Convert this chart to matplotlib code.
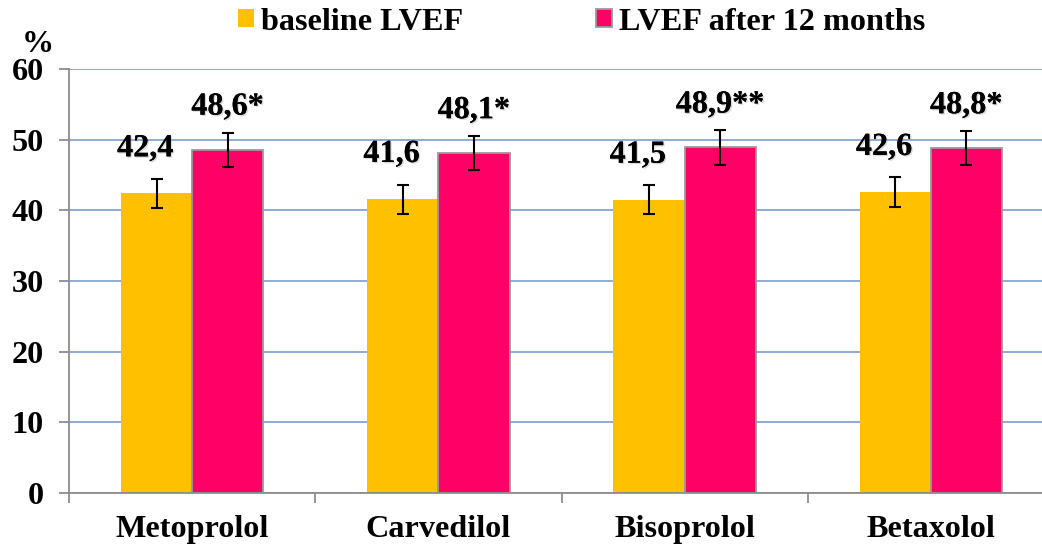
import matplotlib
matplotlib.use("Agg")
import matplotlib.pyplot as plt
import matplotlib.patheffects as pe
import numpy as np

categories = ["Metoprolol", "Carvedilol", "Bisoprolol", "Betaxolol"]
baseline = [42.4, 41.6, 41.5, 42.6]
after12 = [48.6, 48.1, 48.9, 48.8]
baseline_err = [2.1, 2.05, 2.05, 2.1]
after12_err = [2.4, 2.45, 2.45, 2.45]
baseline_labels = ["42,4", "41,6", "41,5", "42,6"]
after12_labels = ["48,6*", "48,1*", "48,9**", "48,8*"]
series_names = ["baseline LVEF", "LVEF after 12 months"]
yticks = [0, 10, 20, 30, 40, 50, 60]

plt.rcParams['font.family'] = ['Liberation Serif', 'DejaVu Serif']
plt.rcParams['font.weight'] = 'bold'

W, H = 1042, 545
FS = 23.2
fig = plt.figure(figsize=(W / 100, H / 100), dpi=100)
ax = fig.add_axes([69 / W, 52 / H, 985 / W, 424 / H])

yellow = "#FFC000"
pink = "#FF0066"
x = np.arange(len(categories))
bw = 0.289

b1 = ax.bar(x - bw / 2, baseline, bw, color=yellow, edgecolor=yellow, linewidth=0,
            yerr=baseline_err, error_kw=dict(ecolor="black", elinewidth=1.5, capsize=4.2, capthick=1.5),
            zorder=3, label=series_names[0])
b2 = ax.bar(x + bw / 2, after12, bw, color=pink, edgecolor="#9A9A9A", linewidth=1.3,
            yerr=after12_err, error_kw=dict(ecolor="black", elinewidth=1.5, capsize=4.2, capthick=1.5),
            zorder=3, label=series_names[1])

shadow = [pe.withSimplePatchShadow(offset=(1.0, -1.0), shadow_rgbFace="#999999", alpha=0.35), pe.Normal()]
for xi, v, lab in zip(x, baseline, baseline_labels):
    ax.annotate(lab, xy=(xi - bw / 2, v + 6.3), xytext=(-8, 0), textcoords="offset points",
                ha="center", va="center", fontsize=FS, fontweight="bold", path_effects=shadow,
                annotation_clip=False)
for xi, v, lab in zip(x, after12, after12_labels):
    ax.annotate(lab, xy=(xi + bw / 2, v + 6.0), xytext=(0, 0), textcoords="offset points",
                ha="center", va="center", fontsize=FS, fontweight="bold", path_effects=shadow,
                annotation_clip=False)

ax.set_xlim(-0.5, len(categories) - 0.5)
ax.set_ylim(0, 60)
ax.set_yticks(yticks)
ax.set_yticklabels([str(t) for t in yticks], fontsize=FS, fontweight="bold")
ax.set_xticks(x)
ax.set_xticklabels(categories, fontsize=FS, fontweight="bold")
ax.tick_params(axis="x", length=0, pad=16)
ax.set_xticks(np.arange(len(categories) + 1) - 0.5, minor=True)
ax.tick_params(axis="x", which="minor", length=7, color="#8C8C8C", width=1.3)
ax.tick_params(axis="y", length=7, color="#8C8C8C", width=1.3, pad=11)

ax.grid(axis="y", color="#7096CC", linewidth=1.1, zorder=0)
ax.set_axisbelow(True)
for s in ["top", "right"]:
    ax.spines[s].set_visible(False)
for s in ["left", "bottom"]:
    ax.spines[s].set_color("#8C8C8C")
    ax.spines[s].set_linewidth(1.3)
    ax.spines[s].set_zorder(4)

fig.text(38 / W, 1 - 44 / H, "%", ha="center", va="center", fontsize=FS, fontweight="bold")

leg = fig.legend(handles=[b1, b2], labels=series_names, loc="center left",
                 bbox_to_anchor=(238 / W, 1 - 22 / H), ncol=2, frameon=False,
                 fontsize=FS, handlelength=0.5, handleheight=0.5, handletextpad=0.22,
                 columnspacing=4.12, borderpad=0, borderaxespad=0)
for t in leg.get_texts():
    t.set_fontweight("bold")

fig.savefig("out.png", dpi=100)
